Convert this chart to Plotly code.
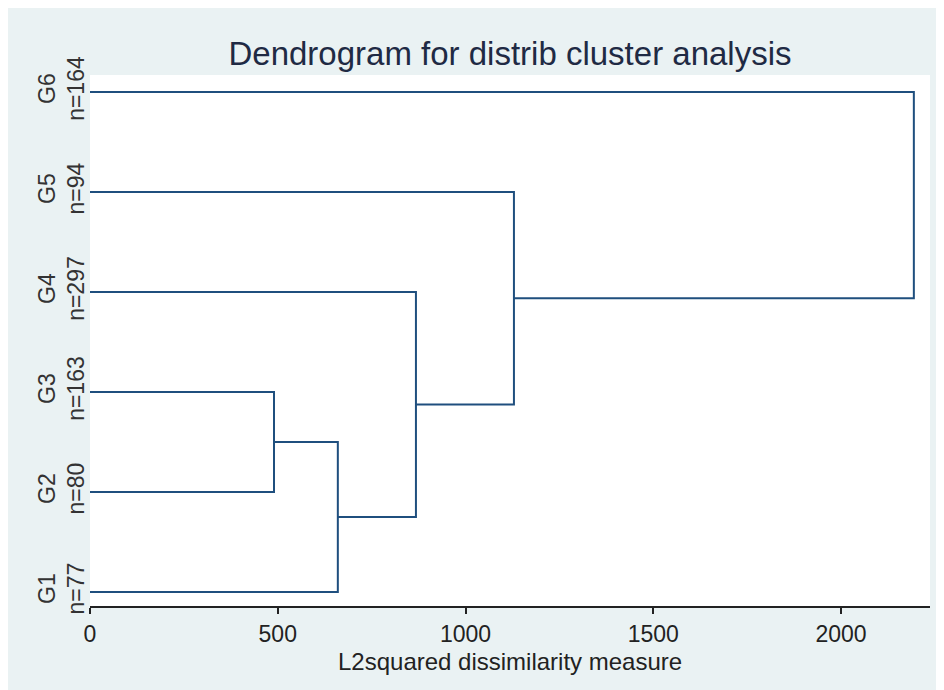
import plotly.graph_objects as go

# Leaves (bottom to top) and group sizes
leaves = ["G1", "G2", "G3", "G4", "G5", "G6"]
counts = [77, 80, 163, 297, 94, 164]

# Linkage: cluster ids 0..5 are leaves, new clusters 6,7,... in order
merge_a = [1, 6, 3, 4, 5]
merge_b = [2, 0, 7, 8, 9]
merge_h = [490, 660, 868, 1129, 2194]

x_ticks = [0, 500, 1000, 1500, 2000]
x_title = "L2squared dissimilarity measure"

LINE = "#1f4f7e"
BG = "#eaf2f3"
FONT = "Liberation Sans, Arial"

pos = {i: i + 1 for i in range(len(leaves))}
hgt = {i: 0 for i in range(len(leaves))}

fig = go.Figure()
for k, (a, b, h) in enumerate(zip(merge_a, merge_b, merge_h)):
    new = len(leaves) + k
    xs = [hgt[a], h, h, hgt[b]]
    ys = [pos[a], pos[a], pos[b], pos[b]]
    fig.add_trace(go.Scatter(x=xs, y=ys, mode="lines",
                             line=dict(color=LINE, width=2),
                             hoverinfo="skip", showlegend=False))
    pos[new] = (pos[a] + pos[b]) / 2
    hgt[new] = h

ticktext = [f"{g}<br>n={n}" for g, n in zip(leaves, counts)]

fig.update_layout(
    width=936, height=682,
    paper_bgcolor=BG, plot_bgcolor="white",
    margin=dict(l=82, r=14, t=67, b=84),
    title=dict(text="Dendrogram for distrib cluster analysis",
               xref="paper", x=0.5, xanchor="center",
               yref="container", y=0.933, yanchor="middle",
               font=dict(family=FONT, size=33, color="#1f2a44")),
    xaxis=dict(range=[0, 2237], tickvals=x_ticks, ticktext=[str(v) for v in x_ticks],
               showgrid=False, zeroline=False, showline=True, linecolor="#222", linewidth=2,
               ticks="outside", ticklen=6, tickwidth=2, tickcolor="#222",
               tickfont=dict(family=FONT, size=23, color="#222")),
    yaxis=dict(range=[0.86, 6.17], tickvals=[1, 2, 3, 4, 5, 6], ticktext=ticktext,
               tickangle=-90, showgrid=False, zeroline=False, showline=False,
               ticks="", ticklabelstandoff=0,
               tickfont=dict(family=FONT, size=23, color="#333")),
    annotations=[dict(text=x_title, xref="paper", yref="paper", x=0.5, y=-0.104,
                      xanchor="center", yanchor="middle", showarrow=False,
                      font=dict(family=FONT, size=24, color="#222"))],
)

fig.write_html("out.html")
